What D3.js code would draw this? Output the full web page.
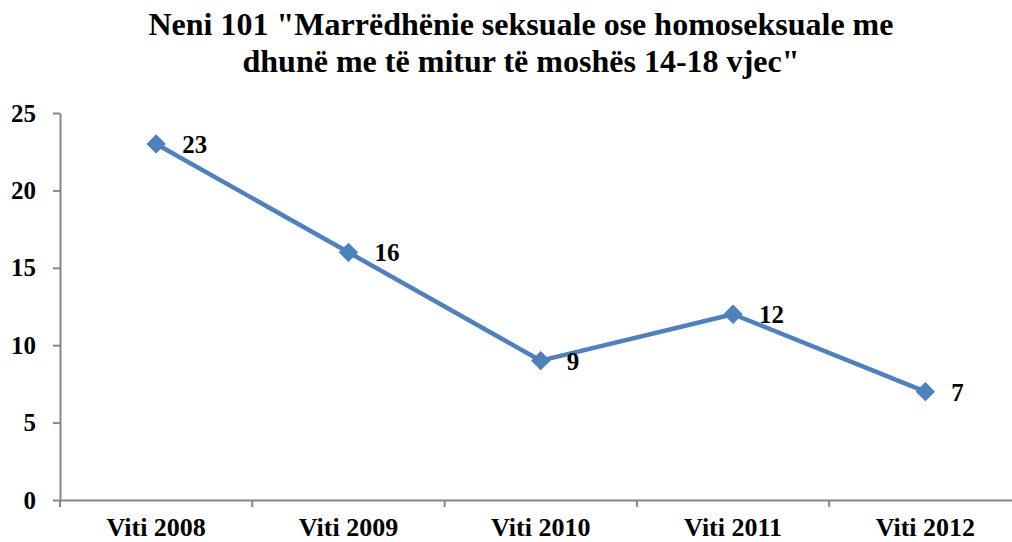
<!DOCTYPE html>
<html><head><meta charset="utf-8">
<script src="https://cdn.jsdelivr.net/npm/d3@7"></script>
<style>html,body{margin:0;padding:0;background:#fff;}svg{display:block;}</style>
</head><body>
<script>
const categories = ["Viti 2008", "Viti 2009", "Viti 2010", "Viti 2011", "Viti 2012"];
const values = [23, 16, 9, 12, 7];
const yTicks = [0, 5, 10, 15, 20, 25];
const titleLines = ["Neni 101 \"Marrëdhënie seksuale ose homoseksuale me", "dhunë me të mitur të moshës 14-18 vjec\""];

const W = 1012, H = 542;
const font = "Liberation Serif, Times New Roman, serif";
const svg = d3.select("body").append("svg").attr("width", W).attr("height", H);

const plotLeft = 60, plotTop = 113, plotBottom = 500, bandW = 192.3;
const x = d3.scaleBand().domain(categories).range([plotLeft, plotLeft + bandW * categories.length]).padding(0);
const y = d3.scaleLinear().domain([0, 25]).range([plotBottom, plotTop]);
const axisColor = "#868686";

// title
const titleTargets = [745, 557];
const titleBase = [35, 72];
titleLines.forEach((t, i) => {
  svg.append("text").attr("x", 521).attr("y", titleBase[i]).attr("text-anchor", "middle")
    .style("font-family", font).attr("font-weight", "bold").attr("font-size", 31)
    .attr("textLength", titleTargets[i]).attr("lengthAdjust", "spacingAndGlyphs")
    .attr("fill", "#000").text(t);
});

// y axis
const yAxis = d3.axisLeft(y).tickValues(yTicks).tickSize(7).tickPadding(17).tickSizeOuter(0);
const gy = svg.append("g").attr("transform", `translate(${plotLeft},0)`).call(yAxis);
gy.select(".domain").attr("stroke", axisColor).attr("stroke-width", 2);
gy.selectAll(".tick line").attr("stroke", axisColor).attr("stroke-width", 2);
gy.selectAll(".tick text").style("font-family", font).attr("font-weight", "bold").attr("font-size", 25).attr("fill", "#000");

// x axis
const xAxis = d3.axisBottom(x).tickSize(0).tickPadding(0).tickSizeOuter(0);
const gx = svg.append("g").attr("transform", `translate(0,${plotBottom})`).call(xAxis);
gx.select(".domain").attr("stroke", axisColor).attr("stroke-width", 2);
gx.selectAll(".tick text").style("font-family", font).attr("font-weight", "bold").attr("font-size", 26)
  .attr("fill", "#000").attr("dy", null).attr("y", 36);
const bounds = categories.map(c => x(c)).concat([x(categories[categories.length - 1]) + x.bandwidth()]);
svg.append("g").selectAll("line").data(bounds).join("line")
  .attr("x1", d => d).attr("x2", d => d).attr("y1", plotBottom).attr("y2", plotBottom + 7)
  .attr("stroke", axisColor).attr("stroke-width", 2);

// line
const cx = (d, i) => x(categories[i]) + x.bandwidth() / 2;
const line = d3.line().x((d, i) => cx(d, i)).y(d => y(d));
svg.append("path").datum(values).attr("d", line).attr("fill", "none")
  .attr("stroke", "#4F81BD").attr("stroke-width", 4.5).attr("stroke-linejoin", "round");
svg.append("g").selectAll("path").data(values).join("path")
  .attr("d", d3.symbol(d3.symbolSquare, 160))
  .attr("transform", (d, i) => `translate(${cx(d, i)},${y(d)}) rotate(45)`)
  .attr("fill", "#4F81BD").attr("stroke", "#4A7EBB").attr("stroke-width", 1);

// data labels
svg.append("g").selectAll("text").data(values).join("text")
  .attr("x", (d, i) => cx(d, i) + 26).attr("y", d => y(d) + 9)
  .style("font-family", font).attr("font-weight", "bold").attr("font-size", 25).attr("fill", "#000")
  .text(d => d);
</script>
</body></html>
